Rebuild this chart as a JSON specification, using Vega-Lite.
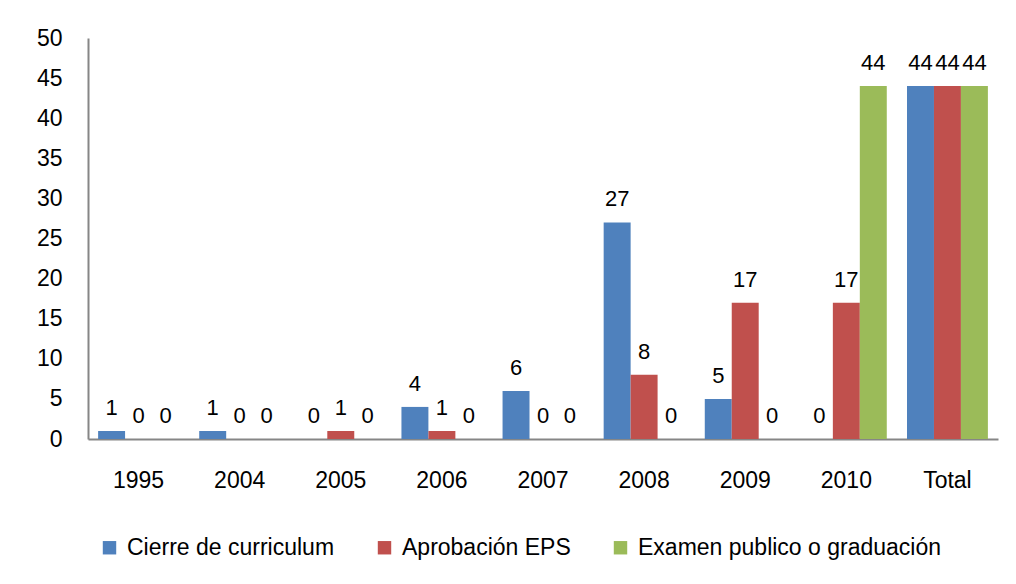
{
  "$schema": "https://vega.github.io/schema/vega-lite/v6.json",
  "autosize": "none",
  "width": 910,
  "height": 401,
  "padding": {"left": 88, "top": 38, "right": 18, "bottom": 145},
  "background": "white",
  "config": {
    "view": {"stroke": null},
    "font": "Liberation Sans",
    "axis": {"grid": false, "domainColor": "#868686", "domainWidth": 2, "ticks": false, "labelFont": "Liberation Sans", "labelFontSize": 23, "labelColor": "#000000", "title": null},
    "legend": {"labelFont": "Liberation Sans", "labelFontSize": 23, "labelColor": "#000000", "labelLimit": 500}
  },
  "data": {
    "values": [
      {"cat": "1995", "serie": "Cierre de curriculum", "value": 1},
      {"cat": "1995", "serie": "Aprobación EPS", "value": 0},
      {"cat": "1995", "serie": "Examen publico o graduación", "value": 0},
      {"cat": "2004", "serie": "Cierre de curriculum", "value": 1},
      {"cat": "2004", "serie": "Aprobación EPS", "value": 0},
      {"cat": "2004", "serie": "Examen publico o graduación", "value": 0},
      {"cat": "2005", "serie": "Cierre de curriculum", "value": 0},
      {"cat": "2005", "serie": "Aprobación EPS", "value": 1},
      {"cat": "2005", "serie": "Examen publico o graduación", "value": 0},
      {"cat": "2006", "serie": "Cierre de curriculum", "value": 4},
      {"cat": "2006", "serie": "Aprobación EPS", "value": 1},
      {"cat": "2006", "serie": "Examen publico o graduación", "value": 0},
      {"cat": "2007", "serie": "Cierre de curriculum", "value": 6},
      {"cat": "2007", "serie": "Aprobación EPS", "value": 0},
      {"cat": "2007", "serie": "Examen publico o graduación", "value": 0},
      {"cat": "2008", "serie": "Cierre de curriculum", "value": 27},
      {"cat": "2008", "serie": "Aprobación EPS", "value": 8},
      {"cat": "2008", "serie": "Examen publico o graduación", "value": 0},
      {"cat": "2009", "serie": "Cierre de curriculum", "value": 5},
      {"cat": "2009", "serie": "Aprobación EPS", "value": 17},
      {"cat": "2009", "serie": "Examen publico o graduación", "value": 0},
      {"cat": "2010", "serie": "Cierre de curriculum", "value": 0},
      {"cat": "2010", "serie": "Aprobación EPS", "value": 17},
      {"cat": "2010", "serie": "Examen publico o graduación", "value": 44},
      {"cat": "Total", "serie": "Cierre de curriculum", "value": 44},
      {"cat": "Total", "serie": "Aprobación EPS", "value": 44},
      {"cat": "Total", "serie": "Examen publico o graduación", "value": 44}
    ]
  },
  "encoding": {
    "x": {"field": "cat", "type": "nominal", "sort": null, "scale": {"paddingInner": 0.2, "paddingOuter": 0.1}, "axis": {"labelAngle": 0, "labelPadding": 30, "domainWidth": 2}},
    "xOffset": {"field": "serie", "type": "nominal", "sort": ["Cierre de curriculum", "Aprobación EPS", "Examen publico o graduación"]},
    "y": {"field": "value", "type": "quantitative", "scale": {"domain": [0, 50]}, "axis": {"values": [0,5,10,15,20,25,30,35,40,45,50], "labelPadding": 26}}
  },
  "layer": [
    {
      "mark": {"type": "bar"},
      "encoding": {
        "color": {"field": "serie", "type": "nominal", "sort": ["Cierre de curriculum", "Aprobación EPS", "Examen publico o graduación"],
          "scale": {"domain": ["Cierre de curriculum", "Aprobación EPS", "Examen publico o graduación"], "range": ["#4F81BD", "#C0504D", "#9BBB59"]},
          "legend": {"title": null, "orient": "none", "legendX": 10, "legendY": 498, "direction": "horizontal", "columns": 3, "symbolType": "square", "symbolSize": 180, "symbolOpacity": 1, "symbolStrokeWidth": 0, "columnPadding": 38, "labelOffset": 6}}
      }
    },
    {
      "mark": {"type": "text", "baseline": "bottom", "dy": -11, "fontSize": 22, "color": "#000000"},
      "encoding": {"text": {"field": "value", "type": "quantitative"}}
    }
  ]
}
